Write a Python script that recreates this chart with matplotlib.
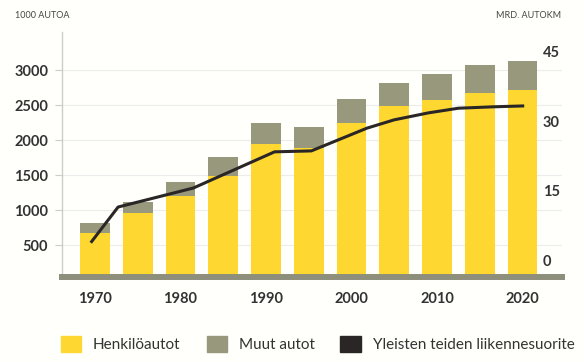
import matplotlib
matplotlib.use("Agg")
import matplotlib.pyplot as plt
from matplotlib.patches import Patch

plt.rcParams['font.family'] = ['Lato', 'DejaVu Sans']

# Vehicle stock (1000 cars) every five years, split by type
years = [1970, 1975, 1980, 1985, 1990, 1995, 2000, 2005, 2010, 2015, 2020]
henkiloautot = [675, 960, 1205, 1490, 1940, 1880, 2250, 2485, 2570, 2665, 2715]
muut_autot = [145, 155, 190, 270, 300, 310, 335, 335, 380, 405, 420]

# Traffic on public roads, billion vehicle-km
traffic_years = [1969.5, 1972.7, 1981.5, 1991.0, 1995.3, 2001.8, 2005.0,
                 2009.0, 2012.5, 2016.5, 2020.2]
traffic = [3.8, 11.5, 15.6, 23.4, 23.6, 28.5, 30.3, 31.8, 32.8, 33.1, 33.3]

left_ticks = [500, 1000, 1500, 2000, 2500, 3000]
right_ticks = [0, 15, 30, 45]
xtick_years = [1970, 1980, 1990, 2000, 2010, 2020]
labels = ['Henkilöautot', 'Muut autot', 'Yleisten teiden liikennesuorite']

yellow = '#fed831'
olive = '#98987c'
dark = '#2a2626'
band = '#8e8e7c'
bg = '#fffffb'
text_col = '#333333'

fig = plt.figure(figsize=(5.84, 3.62), dpi=100, facecolor=bg)
ax = fig.add_axes([62 / 584, 85 / 362, 500 / 584, 245 / 362], facecolor=bg)

ax.bar(years, henkiloautot, width=3.5, color=yellow, zorder=2)
ax.bar(years, muut_autot, width=3.5, bottom=henkiloautot, color=olive, zorder=2)

ax.set_xlim(1966.14, 2024.62)
ax.set_ylim(43, 3543)

# faint horizontal guides behind the bars
ax.set_yticks(left_ticks)
ax.yaxis.grid(True, color='#ececec', lw=0.8)
ax.set_axisbelow(True)

ax.set_xticks(xtick_years)
ax.tick_params(axis='x', length=0, pad=11, labelsize=10.5, labelcolor=text_col)
ax.tick_params(axis='y', length=5, width=0.8, color='#cccccc', pad=5,
               labelsize=10.5, labelcolor=text_col)
for lab in ax.get_xticklabels() + ax.get_yticklabels():
    lab.set_fontweight('bold')

for side in ['top', 'right']:
    ax.spines[side].set_visible(False)
ax.spines['left'].set_color('#cccccc')
ax.spines['left'].set_linewidth(1)
# thick grey ground line under the bars
ax.spines['bottom'].set_color(band)
ax.spines['bottom'].set_linewidth(4.3)
ax.spines['bottom'].set_zorder(3)

# second scale for the traffic line
ax2 = ax.twinx()
ax2.set_ylim(-3.58, 49.23)
ax2.plot(traffic_years, traffic, color=dark, lw=2.2, solid_capstyle='butt',
         zorder=4)
ax2.set_yticks(right_ticks)
ax2.tick_params(axis='y', length=0, pad=-13.7, labelsize=10.5,
                labelcolor=text_col)
for lab in ax2.get_yticklabels():
    lab.set_fontweight('bold')
for side in ax2.spines:
    ax2.spines[side].set_visible(False)

fig.text(15 / 584, 1 - 16 / 362, '1000 AUTOA', fontsize=6.5, color='#444444',
         ha='left', va='center')
fig.text(561 / 584, 1 - 16 / 362, 'MRD. AUTOKM', fontsize=6.5, color='#444444',
         ha='right', va='center')

handles = [Patch(color=yellow), Patch(color=olive), Patch(color=dark)]
fig.legend(handles, labels, loc='center left', bbox_to_anchor=(61 / 584, 18 / 362),
           ncol=3, frameon=False, fontsize=11, handlelength=1.31,
           handleheight=1.31, handletextpad=0.79, columnspacing=1.7,
           borderpad=0, borderaxespad=0, labelcolor=text_col)

fig.savefig('out.png', dpi=100, facecolor=bg)
